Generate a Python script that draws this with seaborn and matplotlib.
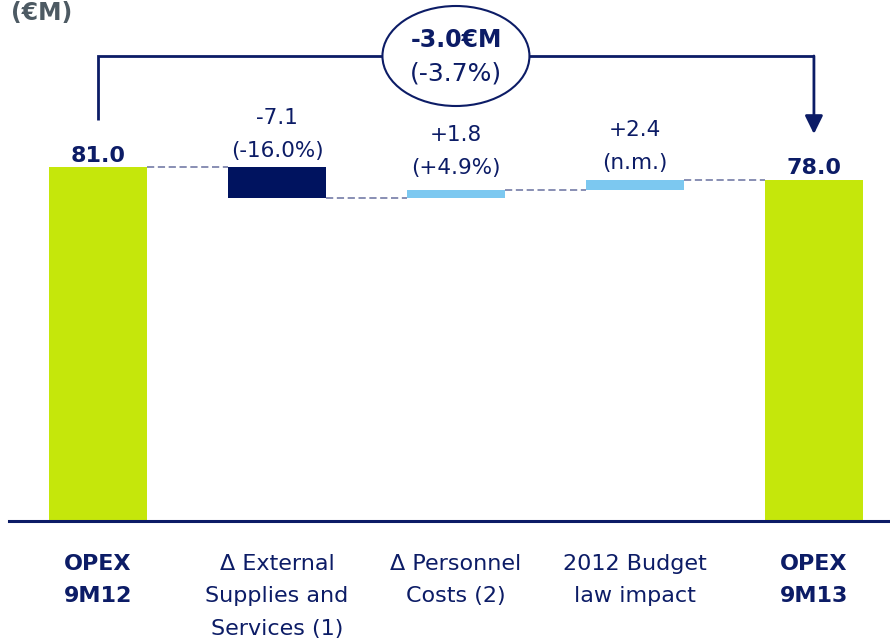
import matplotlib
matplotlib.use("Agg")
import matplotlib.pyplot as plt
from matplotlib.patches import Ellipse
import seaborn as sns

# chart data
categories = ["OPEX\n9M12", "Δ External\nSupplies and\nServices (1)", "Δ Personnel\nCosts (2)",
              "2012 Budget\nlaw impact", "OPEX\n9M13"]
heights = [81.0, -7.1, 1.8, 2.4, 78.0]
bottoms = [0.0, 81.0, 73.9, 75.7, 0.0]
value_labels = [["81.0"], ["-7.1", "(-16.0%)"], ["+1.8", "(+4.9%)"], ["+2.4", "(n.m.)"], ["78.0"]]
total_change = "-3.0€M"
total_change_pct = "(-3.7%)"
unit_label = "(€M)"

lime = "#C5E70B"
navy_bar = "#00135F"
light_blue = "#7CC8F0"
navy = "#0C1C66"
bar_colors = [lime, navy_bar, light_blue, light_blue, lime]

sns.set_style("white")
plt.rcParams["font.family"] = ["DejaVu Sans"]

fig = plt.figure(figsize=(8.9, 6.39), dpi=100)
ax = fig.add_axes([9 / 890, 118 / 639, 881 / 890, 521 / 639])

sns.barplot(x=categories, y=heights, bottom=bottoms, width=0.55, color=lime,
            errorbar=None, ax=ax, zorder=2)
for patch, c in zip(ax.patches, bar_colors):
    patch.set_facecolor(c)
    patch.set_edgecolor("none")

ax.set_xlim(-0.497, 4.425)
ax.set_ylim(0, 119.2)
px = 119.2 / 521  # data units per pixel (vertical)

# dashed connectors between bars
for i in range(len(heights) - 1):
    level = bottoms[i] + heights[i]
    ax.plot([i + 0.275, i + 1 - 0.275], [level, level], ls=(0, (4, 2)),
            color="#7F86AE", lw=1.3, zorder=1)

# value labels above bars
last_offsets = [5, 10, 16, 11, 6]
for i, lines in enumerate(value_labels):
    top = max(bottoms[i], bottoms[i] + heights[i])
    bold = len(lines) == 1
    for j, txt in enumerate(reversed(lines)):
        ax.annotate(txt, xy=(i, top), xytext=(0, last_offsets[i] + 33 * j),
                    textcoords="offset pixels", ha="center", va="baseline",
                    fontsize=16 if bold else 15.5, color=navy,
                    fontweight="bold" if bold else "normal")

# bracket with arrow showing total change
y_br = (521 - 56) * px
ax.plot([0, 0, 4], [(521 - 120) * px, y_br, y_br], color=navy, lw=2, zorder=3,
        solid_capstyle="butt", solid_joinstyle="miter")
ax.annotate("", xy=(4, (521 - 134) * px), xytext=(4, y_br),
            arrowprops=dict(arrowstyle="-|>,head_length=0.55,head_width=0.27",
                            mutation_scale=20, lw=2, color=navy,
                            shrinkA=0, shrinkB=0), zorder=3)
ax.add_patch(Ellipse((2, y_br), width=147 / 179, height=100 * px,
                     facecolor="white", edgecolor=navy, lw=1.5, zorder=4))
ax.text(2, (521 - 40) * px, total_change, ha="center", va="center", fontsize=17,
        fontweight="bold", color=navy, zorder=5)
ax.text(2, (521 - 73) * px, total_change_pct, ha="center", va="center", fontsize=18,
        color=navy, zorder=5)

fig.text(0.012, 1 - 20 / 639, unit_label, ha="left", va="baseline", fontsize=17,
         fontweight="bold", color="#4D5A63")

# axes styling
for side in ["left", "right", "top"]:
    ax.spines[side].set_visible(False)
ax.spines["bottom"].set_color(navy)
ax.spines["bottom"].set_linewidth(2.2)
ax.set_yticks([])
ax.set_ylabel("")
ax.tick_params(axis="x", length=0, pad=24, labelsize=16, labelcolor=navy)
for k, lbl in enumerate(ax.get_xticklabels()):
    lbl.set_linespacing(1.76)
    if k in (0, len(categories) - 1):
        lbl.set_fontweight("bold")

fig.savefig("out.png", dpi=100)
